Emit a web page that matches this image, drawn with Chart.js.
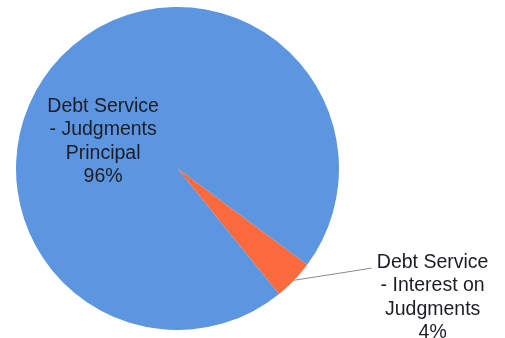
<!DOCTYPE html>
<html>
<head>
<meta charset="utf-8">
<script src="https://cdn.jsdelivr.net/npm/chart.js@4"></script>
<style>
  html, body { margin: 0; padding: 0; background: #fff; }
  #wrap { width: 505px; height: 338px; position: relative; }
</style>
</head>
<body>
<div id="wrap"><canvas id="pieChart"></canvas></div>
<script>
"use strict";

// data
var categories = [
    ['Debt Service', '- Judgments', 'Principal'],
    ['Debt Service', '- Interest on', 'Judgments']
];
var values = [96, 4];
var colors = ['rgb(93, 150, 224)', 'rgb(250, 106, 60)'];

// where each label sits: angle (deg, clockwise from 3 o'clock) and distance as fraction of radius
var labelSpots = [
    { angle: 200, dist: 0.49, leader: false },
    { angle: 26.8, dist: 1.77, leader: true }
];

var pieLabels = {
    id: 'pieLabels',
    afterDatasetsDraw: function (chart) {
        var c = chart.ctx;
        var meta = chart.getDatasetMeta(0);
        var total = values.reduce(function (a, b) { return a + b; }, 0);
        var lineH = 23.5;
        c.save();
        c.font = '19.5px "Liberation Sans", Arial, sans-serif';
        c.fillStyle = '#1c1c24';
        c.textAlign = 'center';
        c.textBaseline = 'middle';
        meta.data.forEach(function (arc, i) {
            var p = arc.getProps(['x', 'y', 'startAngle', 'endAngle', 'outerRadius'], true);
            var spot = labelSpots[i];
            var a = spot.angle * Math.PI / 180;
            var cx = p.x + Math.cos(a) * p.outerRadius * spot.dist;
            var lines = categories[i].concat([Math.round(values[i] / total * 100) + '%']);
            var cy = p.y + Math.sin(a) * p.outerRadius * spot.dist;
            var top = cy - (lines.length - 1) * lineH / 2;
            if (spot.leader) {
                var mid = (p.startAngle + p.endAngle) / 2;
                c.strokeStyle = '#8a8a90';
                c.lineWidth = 1;
                c.beginPath();
                c.moveTo(p.x + Math.cos(mid) * p.outerRadius, p.y + Math.sin(mid) * p.outerRadius);
                c.lineTo(cx - 61, top + 6);
                c.stroke();
            }
            lines.forEach(function (t, k) {
                c.fillText(t, cx, top + k * lineH);
            });
        });
        c.restore();
    }
};

var ctx = document.getElementById('pieChart').getContext('2d');
var myChart = new Chart(ctx, {
    type: 'pie',
    data: {
        labels: categories,
        datasets: [{
            data: values,
            backgroundColor: colors,
            borderWidth: 0
        }]
    },
    options: {
        responsive: true,
        maintainAspectRatio: false,
        animation: false,
        rotation: 141,
        layout: {
            padding: { left: 16, top: 7, right: 166, bottom: 8 }
        },
        plugins: {
            legend: { display: false },
            tooltip: { enabled: false }
        }
    },
    plugins: [pieLabels]
});
</script>
</body>
</html>
